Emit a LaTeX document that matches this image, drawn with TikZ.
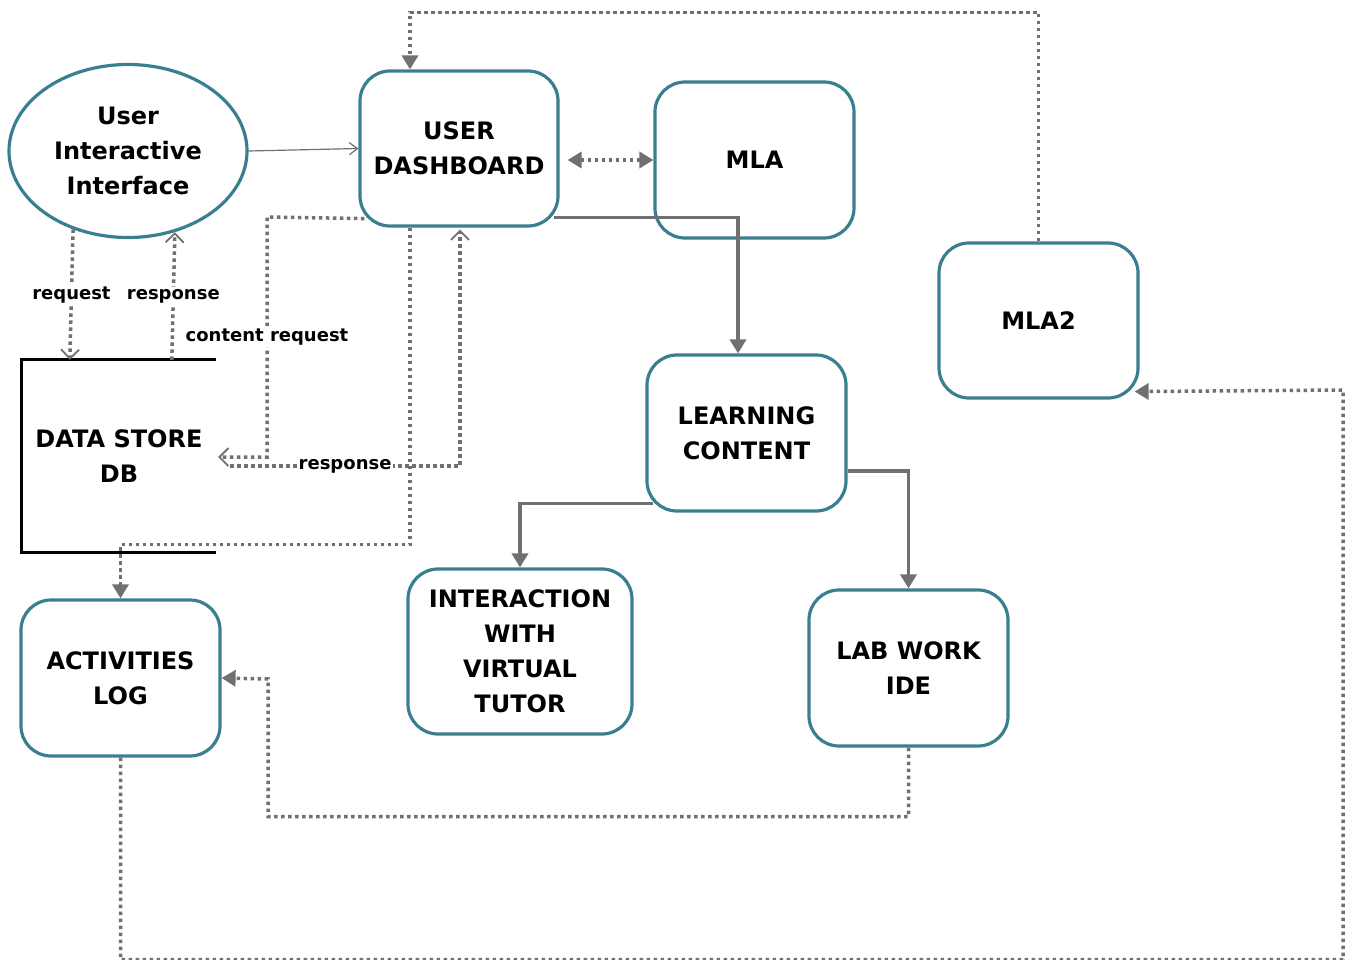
\documentclass[tikz,border=0pt]{standalone}
\usepackage{fontspec}
\setmainfont{DejaVu Sans}
\usetikzlibrary{arrows.meta,shapes.geometric}
\definecolor{teal1}{HTML}{3A7F8F}
\definecolor{conn}{HTML}{707070}
\begin{document}
\begin{tikzpicture}[x=1pt,y=-1pt,
  box/.style={draw=teal1,line width=3.2pt,rounded corners=30pt,minimum width=199pt,minimum height=156pt,
    align=center,inner sep=0pt,font=\bfseries\fontsize{24}{35}\selectfont,text=black},
  ovalbox/.style={draw=teal1,line width=3.2pt,ellipse,minimum width=238pt,minimum height=173pt,
    align=center,inner sep=0pt,font=\bfseries\fontsize{24}{35}\selectfont},
  storetext/.style={align=center,inner sep=0pt,minimum width=194pt,minimum height=188pt,font=\bfseries\fontsize{24}{35}\selectfont},
  dotline/.style={draw=conn,line width=3.5pt,dash pattern=on 3.5pt off 3.5pt},
  solidline/.style={draw=conn,line width=3.5pt},
  filltip/.style={-{Triangle[length=14pt,width=16pt]}},
  opentip/.style={-{Straight Barb[length=9pt,width=18pt,line width=1.8pt]}},
  lbl/.style={fill=white,inner sep=2pt,font=\bfseries\fontsize{18}{20}\selectfont,text=black}]
\useasboundingbox (0,0) rectangle (1349,960);

\node[ovalbox] (uii) at (128,151) {User\\Interactive\\Interface};
\node[box,minimum width=198pt,minimum height=155pt] (dash) at (459,148.5) {USER\\DASHBOARD};
\node[box] (mla) at (754.5,160) {MLA};
\node[box,minimum height=155pt] (mla2) at (1038.5,320.5) {MLA2};
\node[box] (lc) at (746.5,433) {LEARNING\\CONTENT};
\node[box,minimum width=224pt,minimum height=165pt] (ivt) at (520,651.5) {INTERACTION\\WITH\\VIRTUAL\\TUTOR};
\node[box] (lab) at (908.5,668) {LAB WORK\\IDE};
\node[box] (act) at (120.5,678) {ACTIVITIES\\LOG};
\node[storetext] (ds) at (119,456) {DATA STORE\\DB};
\draw[line width=3pt] ([yshift=2pt]ds.north east) -- ([yshift=2pt]ds.north west) -- ([yshift=-2pt]ds.south west) -- ([yshift=-2pt]ds.south east);

% interface -> dashboard
\draw[conn,line width=1.2pt,-{Straight Barb[length=8pt,width=12pt,line width=1.2pt]}] (uii.east) -- (dash.west);

% request / response between interface and data store
\draw[dotline,opentip] (uii.235) -- node[lbl]{request} ([xshift=48pt,yshift=2pt]ds.north west);
\draw[dotline,opentip] ([xshift=150pt,yshift=2pt]ds.north west) -- node[lbl]{response} (uii.300);

% content request dashboard -> data store
\draw[dotline,opentip] ([xshift=6pt,yshift=9pt]dash.south west) -- (267,217) -- node[lbl]{content request} (267,457) -- ([xshift=2pt,yshift=-1pt]ds.east);

% response data store -> dashboard
\coordinate (dsr) at ([xshift=14pt,yshift=-10pt]ds.east);
\coordinate (dbr) at ([xshift=1pt,yshift=-2pt]dash.south);
\draw[dotline,opentip] (dsr) -- node[lbl]{response} (dsr -| dbr) -- (dbr);

% dashboard -> activities log
\draw[dotline,filltip] ([xshift=-49pt]dash.south) -- ++(0,317) -| (act.north);

% dashboard <-> MLA
\draw[dotline,{Triangle[length=14pt,width=16pt]}-{Triangle[length=14pt,width=16pt]}] ([xshift=8pt,yshift=-11.5pt]dash.east) -- (mla.west);

% dashboard -> learning content
\draw[solidline,filltip] ([xshift=-6pt,yshift=10pt]dash.south east) -| ([xshift=-8.5pt]lc.north);

% learning content -> interaction / lab
\draw[solidline,filltip] ([xshift=8pt,yshift=9pt]lc.south west) -| (ivt.north);
\draw[solidline,filltip] ([yshift=-38pt]lc.east) -| (lab.north);

% lab -> activities log
\draw[dotline,filltip] (lab.south) -- ++(0,69) -| (268,679) -- (act.east);

% activities log -> MLA2
\draw[dotline,filltip] (act.south) -- ++(0,202) -| (1343,390) -- ([xshift=-5pt,yshift=8pt]mla2.south east);

% MLA2 -> dashboard
\draw[dotline,filltip] (mla2.north) -- ++(0,-229) -| ([xshift=-49pt]dash.north);
\end{tikzpicture}
\end{document}
